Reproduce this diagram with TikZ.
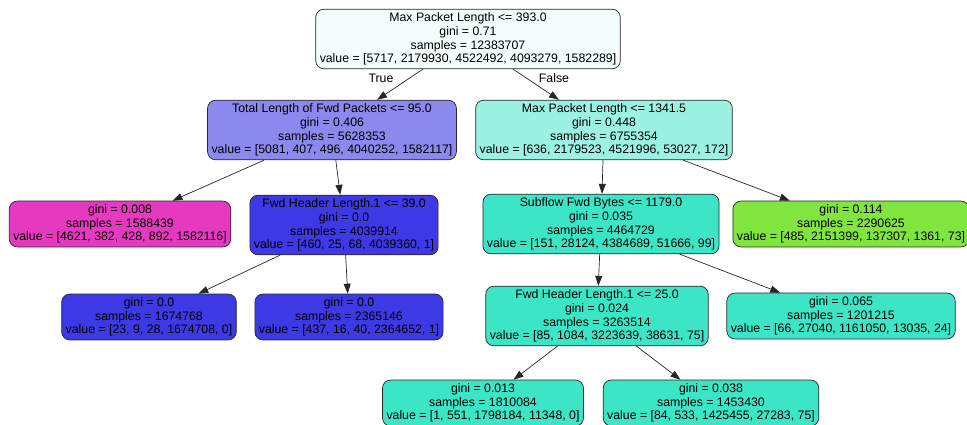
\documentclass[tikz,border=0pt]{standalone}
\usepackage{fontspec}
\setmainfont{Liberation Sans}
\usetikzlibrary{arrows.meta}

\definecolor{rootfill}{RGB}{243,253,251}
\definecolor{lilac}{RGB}{140,137,238}
\definecolor{mint}{RGB}{155,242,226}
\definecolor{magentaleaf}{RGB}{229,58,192}
\definecolor{blueleaf}{RGB}{61,57,229}
\definecolor{tealleaf}{RGB}{61,229,199}
\definecolor{greenleaf}{RGB}{128,229,62}

\tikzset{
	treenode/.style={draw=black!85, line width=0.7pt, rounded corners=8pt,
		align=center, inner xsep=4pt, inner ysep=3.5pt,
		font=\fontsize{12.3}{13.7}\selectfont},
	link/.style={draw=black!85, line width=0.7pt, -{Triangle[length=10pt,width=7pt]}},
	branch/.style={font=\fontsize{12.3}{13.7}\selectfont}
}

\begin{document}
\begin{tikzpicture}[x=1pt,y=-1pt]
		
		\useasboundingbox (0,0) rectangle (967,425);
		\clip (0,0) rectangle (967,425);
		
		% Root of the tree
		\node[treenode, fill=rootfill] (root) at (468,39)
			{Max Packet Length <= 393.0\\gini = 0.71\\samples = 12383707\\value = [5717, 2179930, 4522492, 4093279, 1582289]};
		
		% Second level
		\node[treenode, fill=lilac] (totlen) at (332,130)
			{Total Length of Fwd Packets <= 95.0\\gini = 0.406\\samples = 5628353\\value = [5081, 407, 496, 4040252, 1582117]};
		\node[treenode, fill=mint] (maxlen) at (604,130)
			{Max Packet Length <= 1341.5\\gini = 0.448\\samples = 6755354\\value = [636, 2179523, 4521996, 53027, 172]};
		
		% Third level
		\node[treenode, fill=magentaleaf] (leafa) at (120,224)
			{gini = 0.008\\samples = 1588439\\value = [4621, 382, 428, 892, 1582116]};
		\node[treenode, fill=blueleaf] (hdrlen) at (344,225)
			{Fwd Header Length.1 <= 39.0\\gini = 0.0\\samples = 4039914\\value = [460, 25, 68, 4039360, 1]};
		\node[treenode, fill=tealleaf] (subflow) at (601,224)
			{Subflow Fwd Bytes <= 1179.0\\gini = 0.035\\samples = 4464729\\value = [151, 28124, 4384689, 51666, 99]};
		\node[treenode, fill=greenleaf] (leafb) at (851,224)
			{gini = 0.114\\samples = 2290625\\value = [485, 2151399, 137307, 1361, 73]};
		
		% Fourth level
		\node[treenode, fill=blueleaf] (leafc) at (149,317)
			{gini = 0.0\\samples = 1674768\\value = [23, 9, 28, 1674708, 0]};
		\node[treenode, fill=blueleaf] (leafd) at (349,317)
			{gini = 0.0\\samples = 2365146\\value = [437, 16, 40, 2364652, 1]};
		\node[treenode, fill=tealleaf] (hdrlenb) at (597,316)
			{Fwd Header Length.1 <= 25.0\\gini = 0.024\\samples = 3263514\\value = [85, 1084, 3223639, 38631, 75]};
		\node[treenode, fill=tealleaf] (leafe) at (841,316)
			{gini = 0.065\\samples = 1201215\\value = [66, 27040, 1161050, 13035, 24]};
		
		% Fifth level (cut by the page edge)
		\node[treenode, fill=tealleaf] (leaff) at (483,403)
			{gini = 0.013\\samples = 1810084\\value = [1, 551, 1798184, 11348, 0]};
		\node[treenode, fill=tealleaf] (leafg) at (711,403)
			{gini = 0.038\\samples = 1453430\\value = [84, 533, 1425455, 27283, 75]};
		
		% Edges
		\draw[link] (root) -- (totlen);
		\draw[link] (root) -- (maxlen);
		\draw[link] (totlen) -- (leafa);
		\draw[link] (totlen) -- (hdrlen);
		\draw[link] (hdrlen) -- (leafc);
		\draw[link] (hdrlen) -- (leafd);
		\draw[link] (maxlen) -- (subflow);
		\draw[link] (maxlen) -- (leafb);
		\draw[link] (subflow) -- (hdrlenb);
		\draw[link] (subflow) -- (leafe);
		\draw[link] (hdrlenb) -- (leaff);
		\draw[link] (hdrlenb) -- (leafg);
		
		% Branch labels
		\node[branch] (truelbl) at (381,78) {True};
		\node[branch] (falselbl) at (554,78) {False};
		
\end{tikzpicture}
\end{document}
